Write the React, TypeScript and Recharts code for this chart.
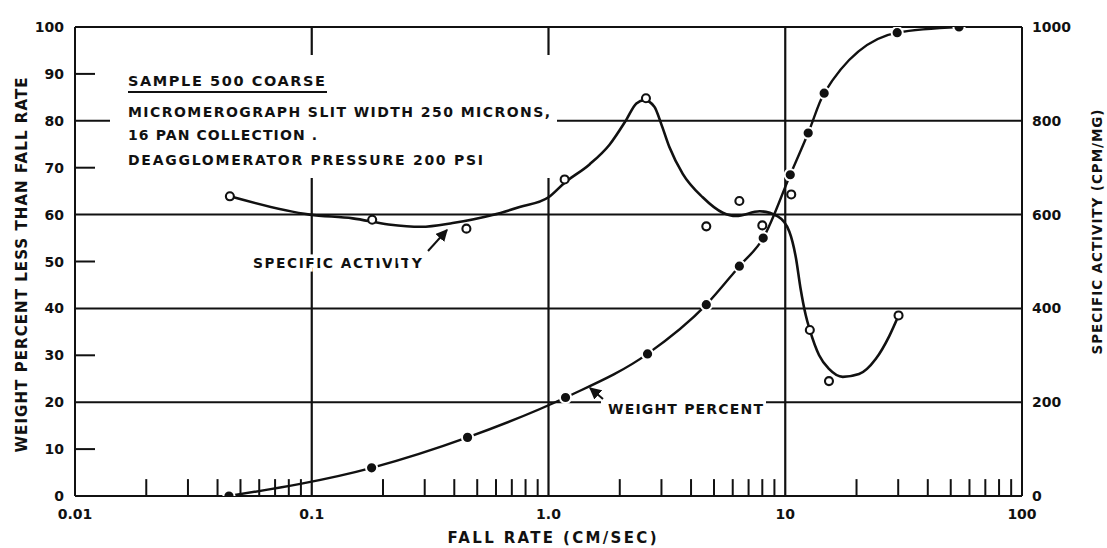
import React from 'react';
import { ComposedChart, Line, XAxis, YAxis, ReferenceLine } from 'recharts';

// Weight percent less than fall rate (filled dots, left axis)
const weightFallRate = [0.0447, 0.179, 0.455, 1.18, 2.62, 4.64, 6.4, 8.07, 10.5, 12.5, 14.6, 29.7, 54.2];
const weightPercent = [0, 6, 12.5, 21, 30.3, 40.8, 49, 55, 68.5, 77.4, 85.9, 98.8, 100];

// Specific activity measured points (open circles, right axis)
const activityFallRate = [0.0451, 0.18, 0.45, 1.17, 2.58, 4.64, 6.4, 8.0, 10.6, 12.7, 15.3, 30.1];
const activityValues = [639, 589, 570, 675, 848, 575, 629, 577, 643, 354, 245, 385];

// Hand-drawn specific activity curve
const activityCurveFallRate = [0.0451, 0.098, 0.149, 0.211, 0.289, 0.394, 0.58, 0.755, 1.0, 1.17, 1.49, 1.81, 2.13, 2.35, 2.54, 2.8, 2.99, 3.24, 3.69, 4.48, 5.45, 6.2, 7.8, 9.3, 10.4, 11.1, 11.6, 12.2, 12.7, 13.9, 15.3, 17.5, 20.5, 24.1, 27.5, 30.1];
const activityCurveValues = [639, 600, 592, 579, 574, 582, 599, 616, 637, 668, 707, 749, 802, 837, 844, 830, 794, 744, 687, 637, 604, 597, 607, 596, 564, 507, 443, 386, 354, 300, 271, 254, 260, 292, 341, 385];

// Axes
const xTicks = [0.01, 0.1, 1, 10, 100];
const xTickLabels = ['0.01', '0.1', '1.0', '10', '100'];
const minorXTicks = [0.02, 0.03, 0.04, 0.05, 0.06, 0.07, 0.08, 0.09, 0.2, 0.3, 0.4, 0.5, 0.6, 0.7, 0.8, 0.9, 2, 3, 4, 5, 6, 7, 8, 9, 20, 30, 40, 50, 60, 70, 80, 90];
const minorTickHeight = 3.6;
const majorXLines = [0.1, 1, 10];
const leftTicks = [0, 10, 20, 30, 40, 50, 60, 70, 80, 90, 100];
const leftInnerTicks = [10, 30, 50, 70, 90];
const horizontalGrid = [20, 40, 60, 80];
const rightTicks = [0, 200, 400, 600, 800, 1000];

const weightData = weightFallRate.map((x, i) => ({ x, y: weightPercent[i] }));
const activityPoints = activityFallRate.map((x, i) => ({ x, y: activityValues[i] }));
const activityCurve = activityCurveFallRate.map((x, i) => ({ x, y: activityCurveValues[i] }));

const FONT = 'DejaVu Sans, Verdana, sans-serif';
const INK = '#111';

const LeftTick = (props: any) => {
  const { x, y, payload } = props;
  const v = payload.value;
  return (
    <g>
      <text x={x - 11} y={y} dy={5} textAnchor="end" fill={INK} fontSize={14} fontWeight="bold" fontFamily={FONT}>
        {v}
      </text>
      {leftInnerTicks.includes(v) && <line x1={x} x2={x + 20} y1={y} y2={y} stroke={INK} strokeWidth={2} />}
    </g>
  );
};

const WeightDot = (props: any) => {
  const { cx, cy, index } = props;
  if (cx == null || cy == null) return <g key={`w${index}`} />;
  return <circle key={`w${index}`} cx={cx} cy={cy} r={5.6} fill={INK} stroke="#fff" strokeWidth={2} />;
};

const ActivityDot = (props: any) => {
  const { cx, cy, index } = props;
  if (cx == null || cy == null) return <g key={`a${index}`} />;
  return <circle key={`a${index}`} cx={cx} cy={cy} r={4} fill="#fff" stroke={INK} strokeWidth={2.1} />;
};

export default function App() {
  const axisLine = { stroke: INK, strokeWidth: 2 };
  const tickStyle = { fill: INK, fontSize: 14, fontWeight: 'bold', fontFamily: FONT };
  return (
    <div style={{ position: 'absolute', left: 0, top: 0, width: 1107, height: 548, background: '#fff' }}>
      <ComposedChart width={1107} height={548} margin={{ top: 27, right: 0, bottom: 0, left: 0 }}>
        <XAxis
          dataKey="x"
          type="number"
          scale="log"
          domain={[0.01, 100]}
          ticks={xTicks}
          allowDataOverflow
          height={52}
          tickLine={false}
          tickSize={0}
          tickMargin={13}
          axisLine={axisLine}
          tick={tickStyle}
          tickFormatter={(v: number) => xTickLabels[xTicks.indexOf(v)] ?? String(v)}
        />
        <YAxis
          yAxisId="left"
          type="number"
          domain={[0, 100]}
          ticks={leftTicks}
          allowDataOverflow
          width={75}
          tickLine={false}
          tickSize={0}
          tickMargin={0}
          axisLine={axisLine}
          tick={<LeftTick />}
        />
        <YAxis
          yAxisId="right"
          orientation="right"
          type="number"
          domain={[0, 1000]}
          ticks={rightTicks}
          allowDataOverflow
          width={85}
          tickLine={false}
          tickSize={0}
          tickMargin={10}
          axisLine={axisLine}
          tick={tickStyle}
        />
        {horizontalGrid.map((v) => (
          <ReferenceLine key={`h${v}`} yAxisId="left" y={v} stroke={INK} strokeWidth={2} />
        ))}
        <ReferenceLine yAxisId="left" y={100} stroke={INK} strokeWidth={2} />
        {majorXLines.map((v) => (
          <ReferenceLine key={`v${v}`} yAxisId="left" x={v} stroke={INK} strokeWidth={2.2} />
        ))}
        {minorXTicks.map((v) => (
          <ReferenceLine
            key={`m${v}`}
            yAxisId="left"
            segment={[{ x: v, y: 0 }, { x: v, y: minorTickHeight }]}
            stroke={INK}
            strokeWidth={2}
          />
        ))}
        <Line
          yAxisId="right"
          data={activityCurve}
          dataKey="y"
          type="monotone"
          stroke={INK}
          strokeWidth={2.6}
          dot={false}
          activeDot={false}
          isAnimationActive={false}
        />
        <Line
          yAxisId="left"
          data={weightData}
          dataKey="y"
          type="monotone"
          stroke={INK}
          strokeWidth={2.4}
          dot={(p: any) => <WeightDot {...p} key={`wd${p.index}`} />}
          activeDot={false}
          isAnimationActive={false}
        />
        <Line
          yAxisId="right"
          data={activityPoints}
          dataKey="y"
          stroke="none"
          strokeWidth={0}
          dot={(p: any) => <ActivityDot {...p} key={`ad${p.index}`} />}
          activeDot={false}
          isAnimationActive={false}
        />
      </ComposedChart>
      <svg width={1107} height={548} style={{ position: 'absolute', left: 0, top: 0, pointerEvents: 'none' }}>
        <defs>
          <marker id="arrow" viewBox="0 0 10 10" refX="9" refY="5" markerWidth="6" markerHeight="6" orient="auto-start-reverse">
            <path d="M0,0 L10,5 L0,10 z" fill={INK} />
          </marker>
        </defs>
        <rect x={110} y={55} width={447} height={123} fill="#fff" />
        <g fill={INK} fontFamily={FONT} fontWeight="bold">
          <text x={128} y={86} fontSize={14.5} textLength={197} lengthAdjust="spacing">SAMPLE 500 COARSE</text>
          <line x1={128} x2={327} y1={92} y2={92} stroke={INK} strokeWidth={2} />
          <text x={128} y={117} fontSize={14} textLength={422} lengthAdjust="spacing">MICROMEROGRAPH SLIT WIDTH 250 MICRONS,</text>
          <text x={128} y={140} fontSize={14} textLength={189} lengthAdjust="spacing">16 PAN COLLECTION .</text>
          <text x={128} y={165} fontSize={14} textLength={355} lengthAdjust="spacing">DEAGGLOMERATOR PRESSURE 200 PSI</text>

          <text x={253} y={268} fontSize={14} textLength={169} lengthAdjust="spacing" stroke="#fff" strokeWidth={7} paintOrder="stroke">SPECIFIC ACTIVITY</text>
          <line x1={428} y1={251} x2={447} y2={230} stroke={INK} strokeWidth={2} markerEnd="url(#arrow)" />

          <rect x={601} y={396} width={165} height={22} fill="#fff" />
          <text x={608} y={414} fontSize={14} textLength={155} lengthAdjust="spacing">WEIGHT PERCENT</text>
          <line x1={603} y1={399} x2={590} y2={388} stroke={INK} strokeWidth={2} markerEnd="url(#arrow)" />

          <text x={552} y={543} fontSize={15} textAnchor="middle" textLength={209} lengthAdjust="spacing">FALL RATE (CM/SEC)</text>
          <text transform="translate(27,265) rotate(-90)" fontSize={15} textAnchor="middle" textLength={375} lengthAdjust="spacing">WEIGHT PERCENT LESS THAN FALL RATE</text>
          <text transform="translate(1102,232) rotate(-90)" fontSize={13.5} textAnchor="middle" textLength={245} lengthAdjust="spacing">SPECIFIC ACTIVITY (CPM/MG)</text>
        </g>
      </svg>
    </div>
  );
}
